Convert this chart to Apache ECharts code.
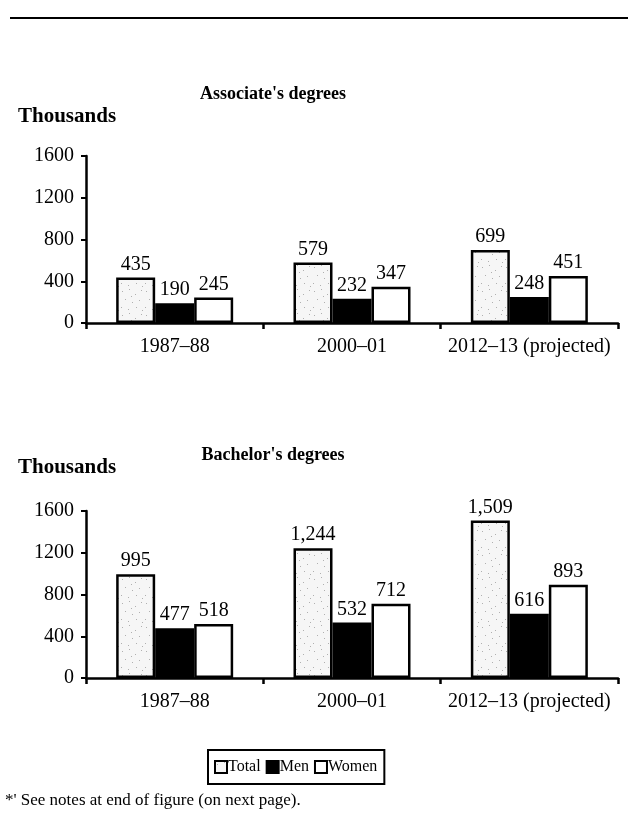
<!DOCTYPE html>
<html><head><meta charset="utf-8">
<script src="https://cdn.jsdelivr.net/npm/echarts@6/dist/echarts.min.js"></script>
<style>html,body{margin:0;padding:0;background:#fff}#c{width:628px;height:813px}</style>
</head><body><div id="c"></div>
<script>
const categories = ['1987–88', '2000–01', '2012–13 (projected)'];
const assocTotal = [435, 579, 699];
const assocMen = [190, 232, 248];
const assocWomen = [245, 347, 451];
const bachTotal = [995, 1244, 1509];
const bachMen = [477, 532, 616];
const bachWomen = [518, 712, 893];
const yTicks = [0, 400, 800, 1200, 1600];

// stipple pattern for Total bars
const pc = document.createElement('canvas');
pc.width = 24; pc.height = 24;
const g = pc.getContext('2d');
g.fillStyle = '#f6f6f6'; g.fillRect(0, 0, 24, 24);
g.fillStyle = '#b0b0b0';
[[2,3],[9,1],[15,6],[21,2],[5,11],[12,14],[19,12],[1,19],[8,21],[16,19],[22,22],[11,8]].forEach(p => g.fillRect(p[0], p[1], 1, 1));
const stipple = { image: pc, repeat: 'repeat' };

const FONT = '"Liberation Serif", "DejaVu Serif", serif';
const fmt = p => String(p.value).replace(/\B(?=(\d{3})+(?!\d))/g, ',');
const lbl = { show: true, position: 'top', distance: 3, fontFamily: FONT, fontSize: 20, color: '#000', formatter: fmt };

function xAx(i) {
  return {
    type: 'category', gridIndex: i, data: categories,
    axisLine: { lineStyle: { color: '#000', width: 2.5 } },
    axisTick: { show: true, alignWithLabel: false, length: 6, inside: false, lineStyle: { color: '#000', width: 2.5 } },
    axisLabel: { interval: 0, fontFamily: FONT, fontSize: 20, color: '#000', margin: 14 }
  };
}
function yAx(i) {
  return {
    type: 'value', gridIndex: i, min: yTicks[0], max: yTicks[yTicks.length - 1], interval: 400,
    axisLine: { show: true, lineStyle: { color: '#000', width: 2.5 } },
    axisTick: { show: true, length: 5, lineStyle: { color: '#000', width: 2 } },
    splitLine: { show: false },
    axisLabel: { fontFamily: FONT, fontSize: 20, color: '#000', margin: 12, formatter: v => String(v) }
  };
}
function series(name, data, i, color) {
  return {
    type: 'bar', name, data, xAxisIndex: i, yAxisIndex: i,
    barWidth: 39, barGap: '0%',
    itemStyle: { color, borderColor: '#000', borderWidth: 2.5 },
    label: lbl
  };
}

const chart = echarts.init(document.getElementById('c'), null, { renderer: 'canvas' });
chart.setOption({
  animation: false,
  backgroundColor: '#fff',
  title: [
    { text: "Associate's degrees", left: 268, top: 80, textAlign: 'center', textStyle: { fontFamily: FONT, fontSize: 18, fontWeight: 'bold', color: '#000' } },
    { text: 'Thousands', left: 13, top: 101, textStyle: { fontFamily: FONT, fontSize: 21, fontWeight: 'bold', color: '#000' } },
    { text: "Bachelor's degrees", left: 268, top: 441, textAlign: 'center', textStyle: { fontFamily: FONT, fontSize: 18, fontWeight: 'bold', color: '#000' } },
    { text: 'Thousands', left: 13, top: 452, textStyle: { fontFamily: FONT, fontSize: 21, fontWeight: 'bold', color: '#000' } },
    { text: "*' See notes at end of figure (on next page).", left: 0, top: 787, textStyle: { fontFamily: FONT, fontSize: 17, fontWeight: 'normal', color: '#000' } }
  ],
  graphic: [
    { type: 'line', shape: { x1: 10, y1: 18, x2: 628, y2: 18 }, style: { stroke: '#000', lineWidth: 2 } }
  ],
  legend: {
    data: ['Total', 'Men', 'Women'],
    left: 208, top: 750,
    padding: [9, 7, 9, 6],
    borderColor: '#000', borderWidth: 2,
    itemWidth: 12, itemHeight: 12, itemGap: 5,
    icon: 'rect',
    textStyle: { fontFamily: FONT, fontSize: 16, color: '#000', padding: [0, 0, 0, -4] },
    itemStyle: { borderColor: '#000', borderWidth: 2 }
  },
  grid: [
    { left: 86, right: 10, top: 156, height: 167 },
    { left: 86, right: 10, top: 511, height: 167 }
  ],
  xAxis: [xAx(0), xAx(1)],
  yAxis: [yAx(0), yAx(1)],
  series: [
    series('Total', assocTotal, 0, stipple),
    series('Men', assocMen, 0, '#000'),
    series('Women', assocWomen, 0, '#fff'),
    series('Total', bachTotal, 1, stipple),
    series('Men', bachMen, 1, '#000'),
    series('Women', bachWomen, 1, '#fff')
  ]
});
</script></body></html>
